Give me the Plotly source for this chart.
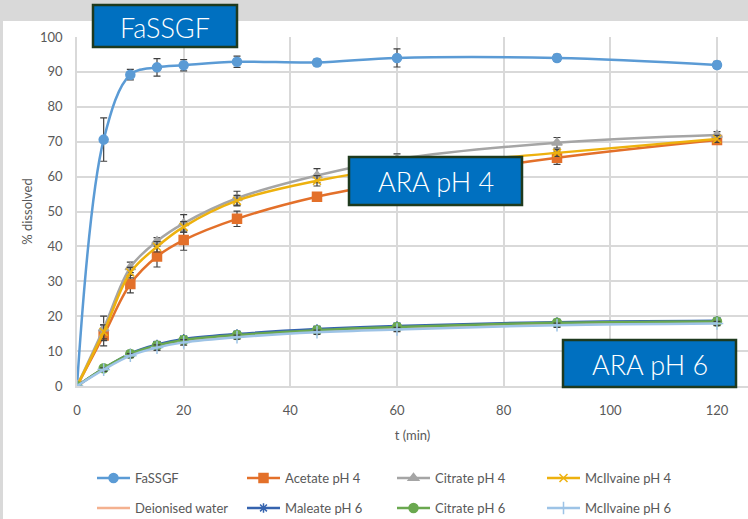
import plotly.graph_objects as go

t = [0, 5, 10, 15, 20, 30, 45, 60, 90, 120]

fassgf = [0, 70.6, 89.2, 91.3, 91.9, 92.9, 92.7, 94.0, 94.0, 92.0]
fassgf_err = [0, 6.2, 1.5, 2.5, 1.6, 1.6, 1.0, 2.6, 1.0, 1.0]

acetate4 = [0, 14.5, 29.2, 37.1, 41.8, 47.9, 54.2, 58.5, 65.4, 70.5]
acetate4_err = [0, 3.0, 2.5, 3.0, 2.9, 2.2, 1.0, 1.5, 1.9, 1.0]

citrate4 = [0, 16.5, 34.0, 41.5, 46.6, 53.8, 60.3, 65.0, 69.7, 71.9]
citrate4_err = [0, 3.5, 1.5, 1.0, 2.5, 2.0, 2.0, 1.5, 1.5, 1.0]

mcilvaine4 = [0, 15.5, 32.5, 39.9, 45.6, 53.1, 58.8, 62.5, 66.8, 70.8]
mcilvaine4_err = [0, 2.0, 1.5, 1.5, 1.5, 1.5, 1.5, 1.0, 1.0, 1.0]

water = [0, 5.0, 9.0, 11.4, 13.0, 14.4, 15.8, 16.7, 17.8, 18.3]
water_err = [0, 0.5, 0.6, 0.6, 0.6, 0.5, 0.5, 0.5, 0.5, 0.5]

maleate6 = [0, 5.0, 9.3, 11.9, 13.5, 14.9, 16.3, 17.2, 18.3, 18.7]
maleate6_err = [0, 0.5, 0.8, 0.8, 0.6, 0.6, 0.8, 0.6, 0.6, 0.5]

citrate6 = [0, 5.1, 9.2, 11.6, 13.2, 14.6, 16.0, 16.9, 18.1, 18.5]
citrate6_err = [0, 0.5, 0.6, 0.6, 0.6, 0.6, 0.6, 0.6, 0.6, 0.8]

mcilvaine6 = [0, 4.7, 8.7, 11.0, 12.5, 14.0, 15.4, 16.2, 17.4, 17.9]
mcilvaine6_err = [0, 0.5, 0.6, 0.8, 0.8, 0.6, 0.6, 0.6, 0.6, 0.6]

x_ticks = [0, 20, 40, 60, 80, 100, 120]
y_ticks = [0, 10, 20, 30, 40, 50, 60, 70, 80, 90, 100]

series = [
    ("FaSSGF", fassgf, fassgf_err, "#5B9BD5", "circle", 9, "legend"),
    ("Acetate pH 4", acetate4, acetate4_err, "#E3702A", "square", 9, "legend"),
    ("Citrate pH 4", citrate4, citrate4_err, "#A5A5A5", "triangle-up", 9, "legend"),
    ("McIlvaine pH 4", mcilvaine4, mcilvaine4_err, "#EDB10E", "x-thin-open", 8, "legend"),
    ("Deionised water", water, water_err, "#F4B18F", None, 0, "legend2"),
    ("Maleate pH 6", maleate6, maleate6_err, "#3563AE", "asterisk-open", 8, "legend2"),
    ("Citrate pH 6", citrate6, citrate6_err, "#6AA84F", "circle", 9, "legend2"),
    ("McIlvaine pH 6", mcilvaine6, mcilvaine6_err, "#9DC3E6", "cross-thin-open", 9, "legend2"),
]

fig = go.Figure()
for name, ys, errs, color, sym, size, lg in series:
    mode = "lines+markers" if sym else "lines"
    marker = dict(color=color, size=size, symbol=sym if sym else "circle",
                  line=dict(color=color, width=1.5))
    fig.add_trace(go.Scatter(
        x=t, y=ys, name=name, mode=mode, legend=lg,
        line=dict(color=color, width=2.5, shape="spline", smoothing=1.0),
        marker=marker,
        error_y=dict(type="data", array=errs, visible=True, color="#404040",
                     thickness=1.2, width=3.5),
    ))

L, R, T, B = 77, 0, 37, 133
W, H = 748, 519
pw, ph = W - L - R, H - T - B


def px(x):
    return (x - L) / pw


def py(y):
    return (H - B - y) / ph


def cy(y):
    return 1 - y / H


def cx(x):
    return x / W


shapes = [
    # grey frame
    dict(type="rect", xref="paper", yref="paper", x0=px(0), x1=px(W), y0=py(21), y1=py(0),
         fillcolor="#D9D9D9", line=dict(width=0), layer="above"),
    dict(type="rect", xref="paper", yref="paper", x0=px(0), x1=px(3), y0=py(H), y1=py(21),
         fillcolor="#D9D9D9", line=dict(width=0), layer="above"),
]
boxes = [
    ("FaSSGF", 93, 237, 5, 47),
    ("ARA pH 4", 349, 522, 157, 205),
    ("ARA pH 6", 563, 736, 340, 387),
]
annotations = []
for text, x0, x1, y0, y1 in boxes:
    shapes.append(dict(type="rect", xref="paper", yref="paper",
                       x0=px(x0), x1=px(x1), y0=py(y1), y1=py(y0),
                       fillcolor="#0070C0", line=dict(color="#1E3A1E", width=2.5),
                       layer="above"))
    annotations.append(dict(text=text, xref="paper", yref="paper",
                            x=px((x0 + x1) / 2), y=py((y0 + y1) / 2 + 1),
                            xanchor="center", yanchor="middle", showarrow=False,
                            font=dict(family="Lato", weight=300, size=27, color="white")))

font_c = "#595959"
legend_common = dict(orientation="h", xref="container", yref="container",
                     xanchor="left", yanchor="middle",
                     entrywidth=102, entrywidthmode="pixels", itemwidth=33,
                     font=dict(size=13, color=font_c), bgcolor="rgba(0,0,0,0)",
                     traceorder="normal")
fig.update_layout(
    width=W, height=H,
    margin=dict(l=L, r=R, t=T, b=B, autoexpand=False),
    paper_bgcolor="white", plot_bgcolor="white",
    font=dict(family="Lato", size=13, color=font_c),
    shapes=shapes, annotations=annotations,
    xaxis=dict(range=[0, (W - L) / ((717 - 77) / 120)], tickvals=x_ticks,
               showgrid=True, gridcolor="#D9D9D9", gridwidth=1.5,
               zeroline=False, showline=True, linecolor="#D9D9D9", linewidth=1.5,
               ticks="", ticklabelstandoff=12, automargin=False,
               title=dict(text="t (min)", font=dict(size=13, color=font_c), standoff=14),
               tickfont=dict(size=13, color=font_c)),
    yaxis=dict(range=[0, 100], tickvals=y_ticks,
               showgrid=True, gridcolor="#D9D9D9", gridwidth=1.5,
               zeroline=False, showline=True, linecolor="#D9D9D9", linewidth=1.5,
               ticks="", ticklabelstandoff=10, automargin=False,
               title=dict(text="% dissolved", font=dict(size=13, color=font_c), standoff=4),
               tickfont=dict(size=13, color=font_c)),
    legend=dict(x=cx(92), y=cy(478), **legend_common),
    legend2=dict(x=cx(92), y=cy(508), **legend_common),
    showlegend=True,
)

fig.write_html("out.html")
